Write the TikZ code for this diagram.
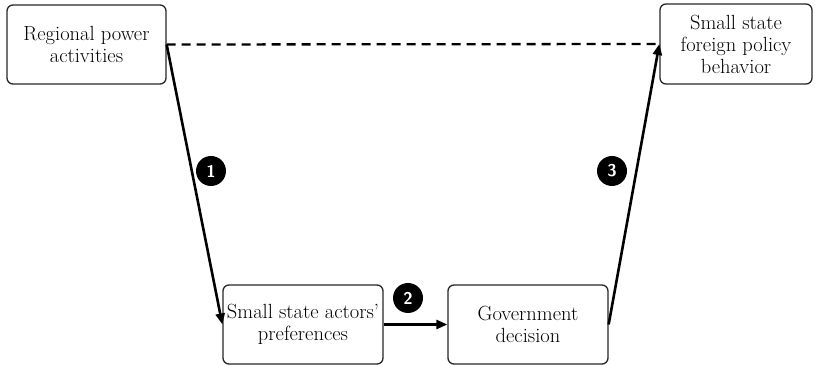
\documentclass[tikz,border=0pt]{standalone}
\usetikzlibrary{arrows.meta}
\begin{document}
\begin{tikzpicture}[x=1pt,y=-1pt,
  box/.style={draw=black!85,line width=1.3pt,rounded corners=6pt,minimum width=#1,align=center,inner sep=0pt,font=\fontsize{20.5}{22}\selectfont},
  badge/.style={circle,fill=black,text=white,minimum size=30pt,inner sep=0pt,font=\sffamily\bfseries\fontsize{17}{17}\selectfont},
  link/.style={line width=2.6pt,-{Triangle[length=11pt,width=9pt]}},
  ]
\useasboundingbox (0,0) rectangle (815,366);
\node[box=159pt,minimum height=79pt] (rp) at (86.5,44.5) {Regional power\\activities};
\node[box=152pt,minimum height=80pt] (sf) at (736,44) {Small state\\foreign policy\\behavior};
\node[box=160pt,minimum height=79pt] (sa) at (303,324.5) {Small state actors'\\preferences};
\node[box=160pt,minimum height=79pt] (gd) at (528,324.5) {Government\\decision};
\draw[line width=2.3pt,dash pattern=on 9pt off 6pt] (rp.east) -- (sf.west);
\draw[link] (rp.east) -- (sa.west);
\draw[link] (sa.east) -- (gd.west);
\draw[link] (gd.east) -- (sf.west);
\node[badge] (b1) at (211,171) {1};
\node[badge] (b2) at (408,298) {2};
\node[badge] (b3) at (612,171) {3};
\end{tikzpicture}
\end{document}
